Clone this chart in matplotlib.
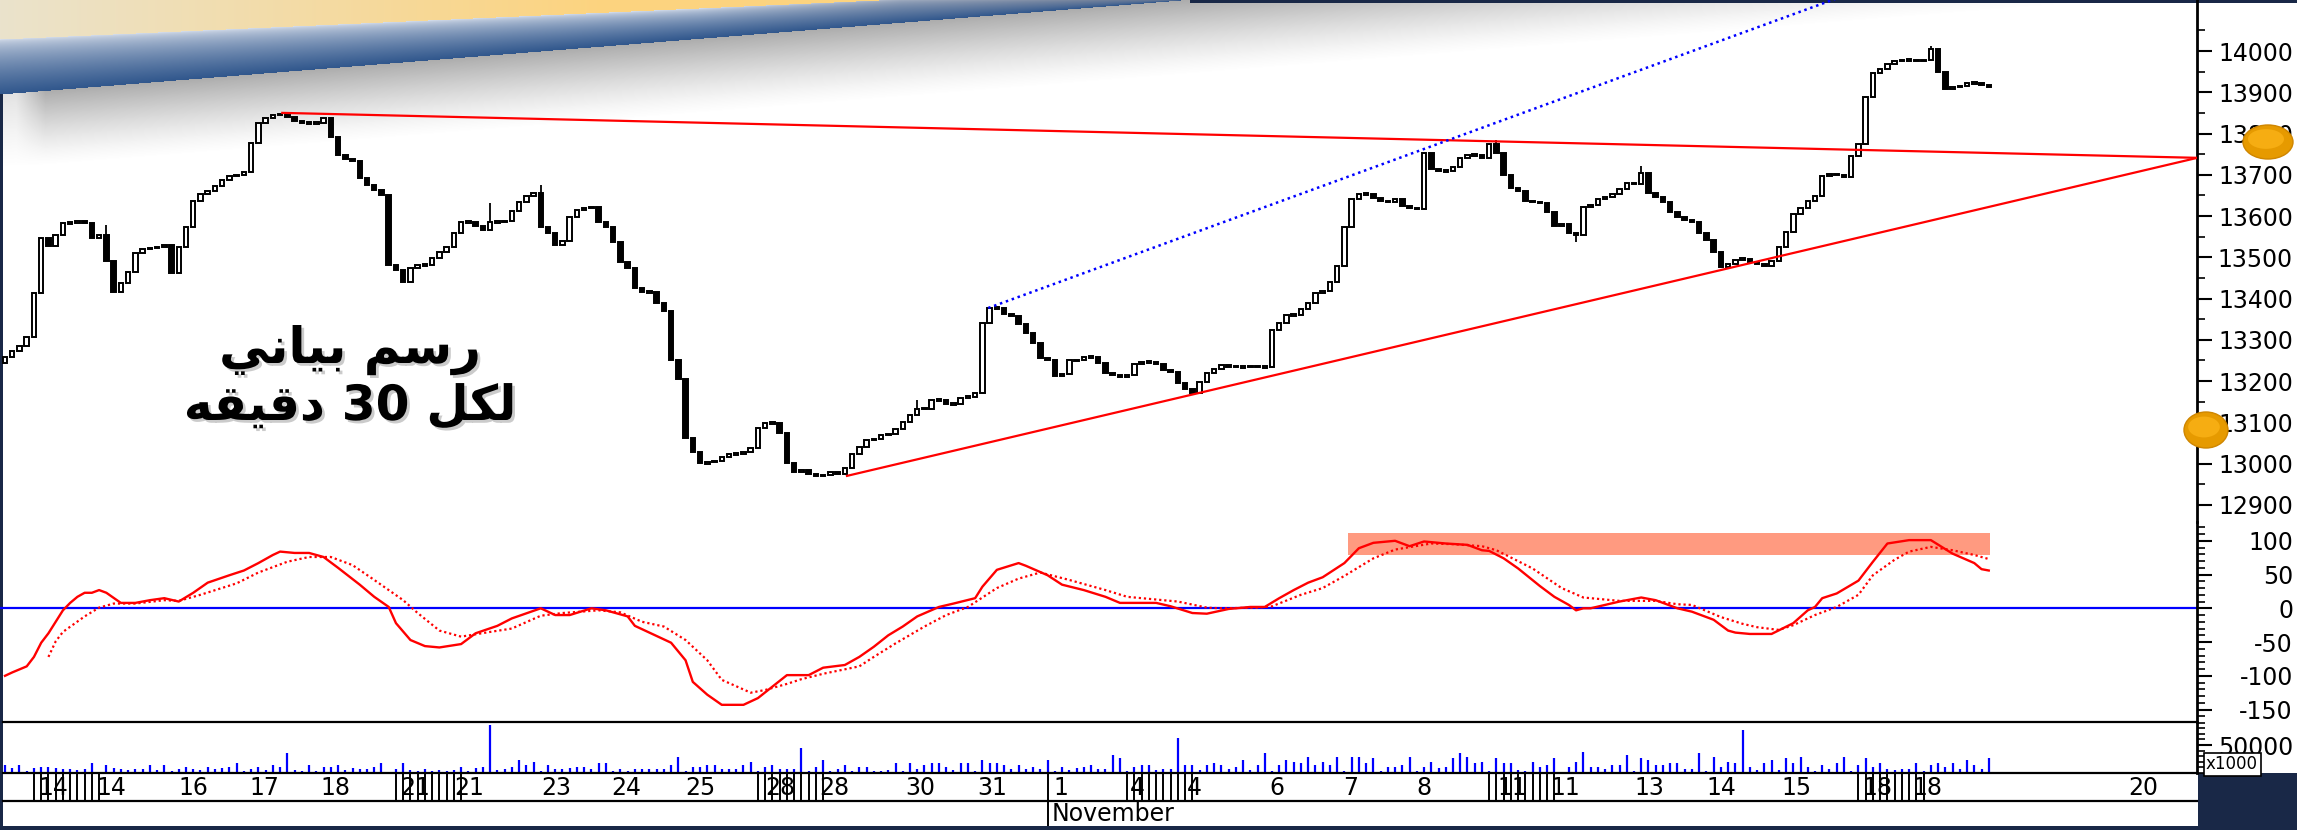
import numpy as np
import matplotlib
matplotlib.use("Agg")
import matplotlib.pyplot as plt
from matplotlib.patches import Ellipse
import matplotlib.patheffects as pe

# ---------------- data ----------------
first_open = 13244
close = [
    # Oct 14 - 18
    13258, 13273, 13285, 13307, 13413, 13547, 13527, 13554, 13583, 13583,
    13588, 13583, 13547, 13555, 13491, 13416, 13438, 13464, 13510, 13520,
    13522, 13525, 13530, 13462, 13525, 13573, 13636, 13653, 13660, 13672,
    13687, 13697, 13700, 13707, 13777, 13825, 13837, 13845, 13847, 13840,
    13830, 13825, 13825, 13826, 13837, 13792, 13748, 13737, 13733, 13692,
    13675, 13663, 13652, 13481,
    # Oct 21 - 25
    13470, 13440, 13474, 13481, 13481, 13498, 13512, 13525, 13560, 13585,
    13585, 13575, 13566, 13585, 13585, 13588, 13612, 13634, 13648, 13655,
    13573, 13558, 13530, 13540, 13598, 13615, 13619, 13622, 13586, 13573,
    13537, 13488, 13474, 13425, 13415, 13415, 13389, 13370, 13251, 13205,
    13062, 13028, 13001, 13003, 13006, 13015, 13023, 13023, 13028, 13037,
    13086, 13098, 13098, 13074, 13001, 12980,
    # Oct 28
    12985, 12975, 12970, 12972, 12980, 12975, 12990, 13023, 13040, 13057,
    13060, 13069, 13072, 13083, 13100,
    # Oct 30 - Nov 5
    13117, 13133, 13133, 13153, 13155, 13144, 13144, 13159, 13162, 13171,
    13341, 13377, 13377, 13362, 13358, 13338, 13316, 13292, 13256, 13252,
    13212, 13218, 13250, 13250, 13258, 13258, 13244, 13220, 13215, 13210,
    13215, 13241, 13246, 13246, 13241, 13227, 13222, 13195, 13180, 13171,
    13198,
    13220, 13230, 13238, 13236, 13234, 13234, 13236, 13234, 13234, 13324,
    13341, 13360, 13360, 13375, 13389, 13413, 13418, 13440, 13478,
    # Nov 7 - 12
    13573, 13641, 13653, 13653, 13643, 13636, 13634, 13641, 13624, 13620,
    13617, 13752, 13714, 13709, 13710, 13719, 13741, 13748, 13748, 13741,
    13775, 13753, 13700, 13668, 13661, 13636, 13634, 13632, 13610, 13576,
    13580, 13559, 13554, 13621, 13627, 13641,
    # Nov 12 - 19
    13646, 13653, 13665, 13680, 13678, 13704, 13656, 13646, 13634, 13610,
    13598, 13590, 13586, 13559, 13542, 13513, 13477, 13483, 13494, 13496,
    13488, 13483, 13478, 13491, 13525, 13561, 13605, 13619, 13636, 13648,
    13697, 13702, 13700, 13695, 13745, 13775, 13888, 13946, 13956, 13968,
    13976, 13978, 13978, 13976, 13978, 14005, 13949, 13908, 13913, 13915,
    13922, 13922, 13918, 13913,
]
wick_high = {14: 13578, 67: 13632, 74: 13675, 126: 13154, 206: 13784, 226: 13721, 266: 14012}
wick_low = {217: 13537}

volume_k = [
    14, 9, 14, 3, 9, 11, 11, 9, 7, 7, 5, 7, 17, 1, 14, 9, 7, 5, 7, 7,
    14, 5, 14, 3, 7, 11, 7, 5, 11, 7, 9, 11, 17, 3, 7, 11, 5, 14, 11, 35,
    5, 3, 14, 3, 11, 11, 14, 5, 9, 7, 7, 11, 17, 1, 7, 17, 5, 3, 7, 3, 5,
    3, 5, 11, 3, 9, 11, 85, 5, 7, 11, 23, 14, 20, 3, 14, 7, 7, 9, 11, 11,
    7, 17, 17, 3, 7, 3, 7, 7, 7, 7, 7, 14, 29, 3, 11, 11, 14, 14, 7, 7,
    7, 14, 20, 3, 11, 14, 7, 7, 7, 45,
    3, 11, 23, 3, 7, 14, 3, 11, 11, 3, 3, 5, 17, 3, 17, 7, 14, 17, 17, 11,
    5, 17, 17, 3, 23, 17, 17, 14, 7, 14, 7, 11, 7, 23, 3, 11, 5, 9, 11, 14, 7,
    7, 33, 26, 3, 11, 14, 14, 5, 7, 7, 63, 14, 14, 5, 14, 17, 14, 7, 11, 23,
    5, 14, 35, 3, 14, 23, 20, 17, 29, 14, 20, 14, 29, 3, 29, 29, 17, 26, 3, 11,
    11, 14, 29, 3, 11, 20, 9, 11, 26, 35, 29, 17, 20, 3, 26, 17, 17, 5, 3, 20,
    11, 14,
    26, 1, 11, 20, 38, 11, 11, 7, 14, 14, 32, 3, 26, 23, 14, 14, 17, 17, 7, 7,
    35, 3, 29, 11, 20, 17, 76, 11, 5, 17, 23, 5, 26, 17, 29, 11, 3, 14, 7, 17,
    29, 3, 14, 26, 11, 17, 7, 5, 7, 7, 17, 3, 14, 17, 11, 17, 7, 23, 14, 7, 26,
]

macd = [
    (0, -100), (1, -95), (3, -86), (4, -72), (5, -51), (6, -37), (7, -20), (8, -3),
    (9, 8), (10, 17), (11, 23), (12, 23), (13, 27), (14, 23), (16, 8), (18, 8),
    (20, 12), (22, 15), (24, 10), (26, 23), (28, 38), (31, 49), (33, 56), (35, 67),
    (37, 79), (38, 84), (40, 82), (42, 82), (44, 76), (46, 60), (49, 35), (51, 17),
    (53, 2), (54, -22), (56, -47), (58, -56), (60, -58), (63, -53), (65, -37),
    (68, -26), (70, -15), (74, 0), (76, -10), (78, -10), (81, 0), (83, -3),
    (86, -12), (87, -26), (90, -41), (92, -51), (94, -77), (95, -109), (97, -128),
    (99, -143), (102, -143), (104, -133), (106, -116), (108, -99), (111, -99),
    (113, -88), (116, -84), (118, -72), (120, -57), (122, -40), (124, -27),
    (126, -12), (129, 2), (131, 7), (134, 15), (135, 32), (137, 57), (140, 67),
    (141, 63), (144, 49), (146, 35), (149, 27), (152, 17), (154, 8), (159, 8),
    (161, 3), (164, -7), (166, -8), (169, -1), (172, 2), (174, 2), (176, 15),
    (178, 27), (180, 38), (182, 46), (185, 67), (187, 89), (189, 97), (192, 100),
    (193, 96), (194, 92), (196, 99), (199, 96), (202, 94), (204, 86), (205, 85),
    (207, 74), (209, 59), (212, 33), (214, 17), (216, 5), (217, -3), (218, 0),
    (219, 0), (223, 10), (226, 16), (228, 12), (231, 0), (233, -5), (236, -17),
    (238, -33), (239, -36), (241, -38), (244, -38), (247, -22), (249, -3),
    (250, 2), (251, 15), (253, 22), (256, 41), (258, 69), (260, 96), (263, 101),
    (266, 101), (269, 81), (272, 67), (273, 58), (274, 56),
]
signal = [
    (6, -72), (7, -49), (8, -35), (11, -12), (13, 1), (15, 7), (18, 7), (22, 12),
    (24, 11), (27, 20), (32, 37), (35, 53), (39, 69), (42, 76), (45, 76), (48, 64),
    (51, 42), (55, 12), (57, -7), (60, -33), (63, -42), (67, -35), (70, -30),
    (74, -11), (77, -7), (82, -3), (85, -6), (88, -20), (91, -27), (94, -47),
    (97, -77), (99, -106), (103, -125), (105, -121), (108, -112), (110, -105),
    (113, -97), (118, -86), (120, -72), (123, -52), (127, -27), (130, -10),
    (133, 2), (137, 30), (140, 44), (143, 53), (147, 42), (152, 27), (155, 17),
    (159, 13), (162, 10), (166, 1), (168, 0), (173, 1), (175, 3), (179, 20),
    (182, 30), (185, 48), (189, 74), (192, 87), (197, 96), (200, 95), (204, 92),
    (206, 86), (211, 59), (215, 30), (218, 16), (223, 11), (228, 11), (231, 6),
    (233, 5), (237, -13), (240, -23), (242, -28), (245, -32), (247, -25),
    (250, -10), (253, 2), (256, 20), (258, 49), (261, 72), (263, 84), (266, 91),
    (269, 86), (272, 79), (274, 73),
]
overbought_zone = (185.5, 274.2, 79, 112)   # x from, x to, osc from, osc to

trend_top = [(38.3, 13850), (302.8, 13741)]
trend_low = [(116.3, 12970), (302.8, 13741)]
channel = [(135.8, 13377), (251.2, 14116)]

price_ticks = list(range(12900, 14001, 100))
osc_ticks = [100, 50, 0, -50, -100, -150]
vol_tick = 50
vol_tick_label = "50000"

day_labels = ["14", "14", "16", "17", "18", "21", "21", "23", "24", "25", "28", "28",
              "30", "31", "1", "4", "4", "6", "7", "8", "11", "11", "13", "14", "15",
              "18", "18", "20"]
day_pos = [4.6, 12.6, 23.9, 33.8, 43.6, 54.6, 62.0, 74.0, 83.8, 94.0, 105.0, 112.4,
           124.4, 134.3, 144.8, 155.4, 163.3, 174.7, 184.8, 195.0, 206.1, 213.5,
           225.1, 235.0, 245.3, 256.5, 263.4, 293.2]
monday_starts = [4, 54, 104, 155, 205, 256]
month_label = "November"
month_pos = 144.1

title_line1 = "رسم بياني"
title_line2 = "لكل 30 دقيقه"
# the same two lines, pre-shaped (Arabic presentation forms, visual order)
title1_vis = "\uFEF2\uFEE7\uFE8E\uFEF4\uFE91 \uFEE2\uFEB3\uFEAD"
title2_vis = "\uFEEA\uFED8\uFEF4\uFED7\uFEA9 30 \uFEDE\uFEDC\uFEDF"

# ---------------- layout ----------------
W, H, DPI = 2297, 830, 100
X0_PX, BAR_PX, AXIS_PX = 5, 7.24, 2197
XLIM = (-X0_PX / BAR_PX, (AXIS_PX - X0_PX) / BAR_PX)
NAVY = np.array([0.10, 0.16, 0.28])
LABEL_RIGHT_PX = 2293

plt.rcParams['font.family'] = ['DejaVu Sans']
fig = plt.figure(figsize=(W / DPI, H / DPI), dpi=DPI, facecolor='white')

# background decoration (banner, shadow, frame)
yy, xx = np.mgrid[0:H, 0:W].astype(float)
rgba = np.zeros((H, W, 4))
y_blue = 95 - 0.0796 * xx
y_yel = 40 - 0.0444 * xx
d = yy - y_blue
sh = np.clip(1 - d / 75.0, 0, 1) ** 1.3 * (d >= 0) * 0.62 * np.clip(xx / 45.0, 0.35, 1)
rgba[..., :3] = 0.48
rgba[..., 3] = sh
band = (yy < y_blue) & (yy >= y_yel)
top_edge = np.maximum(y_yel, 0)
s = np.clip((yy - top_edge) / np.maximum(y_blue - top_edge, 1), 0, 1)
light = np.array([0.84, 0.87, 0.92])
dark = np.array([0.19, 0.34, 0.55])
col = light + (dark - light) * (s[..., None] ** 0.6)
fade = np.clip((xx - 700) / 500.0, 0, 1)[..., None] * 0.55 * (1 - s[..., None])
col = col * (1 - fade) + NAVY * fade
rgba[band, :3] = col[band]
rgba[band, 3] = 1
yel = yy < y_yel
t = np.clip(xx / 600.0, 0, 1)[..., None]
ycol = np.array([0.92, 0.89, 0.80]) * (1 - t) + np.array([0.99, 0.83, 0.50]) * t
rgba[yel, :3] = ycol[yel]
rgba[yel, 3] = 1
navy_mask = (((xx >= 1190) & (yy < 4)) | ((xx < 3) & (yy >= y_blue)) | (yy >= 826)
             | ((xx >= 2198) & (yy >= 773)))
rgba[navy_mask, :3] = NAVY
rgba[navy_mask, 3] = 1

bg = fig.add_axes([0, 0, 1, 1], zorder=0)
bg.imshow(rgba, extent=(0, W, H, 0), interpolation='nearest', aspect='auto')
bg.set_xlim(0, W); bg.set_ylim(H, 0); bg.axis('off')


def add_ax(top, bottom):
    ax = fig.add_axes([0, 1 - bottom / H, AXIS_PX / W, (bottom - top) / H], zorder=2)
    ax.set_facecolor('none')
    ax.set_xlim(*XLIM)
    for sname in ['top', 'left', 'bottom']:
        ax.spines[sname].set_visible(False)
    ax.spines['right'].set_linewidth(2)
    ax.tick_params(axis='x', which='both', bottom=False, labelbottom=False)
    ax.yaxis.tick_right()
    return ax


def style_yticks(ax, labelsize=17):
    tick_len = 10.8
    pad = (LABEL_RIGHT_PX - AXIS_PX) * 72 / DPI - tick_len
    ax.tick_params(axis='y', which='major', length=tick_len, width=1.5, pad=pad,
                   labelsize=labelsize, direction='out', colors='black')
    ax.tick_params(axis='y', which='minor', length=5.8, width=1.2, direction='out')
    for lbl in ax.get_yticklabels():
        lbl.set_horizontalalignment('right')


# ---- price panel ----
ax_p = add_ax(0, 522)
ax_p.set_ylim(14000 - (522 - 51) / 0.4125, 14000 + 51 / 0.4125)
close_a = np.array(close, dtype=float)
open_a = np.r_[first_open, close_a[:-1]]
idx = np.arange(len(close_a))
for i, hv in wick_high.items():
    ax_p.vlines(i, max(open_a[i], close_a[i]), hv, color='black', lw=1.3, zorder=2)
for i, lv in wick_low.items():
    ax_p.vlines(i, lv, min(open_a[i], close_a[i]), color='black', lw=1.3, zorder=2)
hgt = np.maximum(np.abs(close_a - open_a), 4.0)
bot = (close_a + open_a) / 2 - hgt / 2
up = close_a >= open_a
ax_p.bar(idx[up], hgt[up], bottom=bot[up], width=0.62, color='white',
         edgecolor='black', linewidth=1.4, zorder=3)
ax_p.bar(idx[~up], hgt[~up], bottom=bot[~up], width=0.62, color='black',
         edgecolor='black', linewidth=1.4, zorder=3)

(tx0, ty0), (tx1, ty1) = trend_top
ax_p.plot([tx0, tx1], [ty0, ty1], color='#ff0000', lw=1.6, zorder=4)
(lx0, ly0), (lx1, ly1) = trend_low
ax_p.plot([lx0, lx1], [ly0, ly1], color='#ff0000', lw=1.6, zorder=4)
(cx0, cy0), (cx1, cy1) = channel
slope = (cy1 - cy0) / (cx1 - cx0)
cx_end = cx1 + 10
ax_p.plot([cx0, cx_end], [cy0, cy0 + slope * (cx_end - cx0)], color='#0000ff',
          lw=1.8, linestyle=(0, (1, 1.5)), zorder=4)

ax_p.set_yticks(price_ticks)
ax_p.set_yticklabels([str(v) for v in price_ticks])
ax_p.set_yticks(np.arange(12950, 14101, 100), minor=True)
style_yticks(ax_p)

# Arabic caption
shadow = [pe.SimplePatchShadow(offset=(2, -2), shadow_rgbFace='0.55', alpha=0.45), pe.Normal()]
fig.text(350 / W, 1 - 350 / H, title1_vis, fontsize=36, fontweight='bold', ha='center',
         va='center', color='black', zorder=6, path_effects=shadow)
fig.text(350 / W, 1 - 406 / H, title2_vis, fontsize=35, fontweight='bold', ha='center',
         va='center', color='black', zorder=6, path_effects=shadow)

# ---- oscillator panel ----
ax_o = add_ax(522, 722)
ax_o.set_ylim(-(722 - 608.3) / 0.675, (608.3 - 522) / 0.675)
zx0, zx1, zy0, zy1 = overbought_zone
ax_o.fill_between([zx0, zx1], zy0, zy1, color='#ff9a80', lw=0, zorder=1)
ax_o.axhline(0, color='#0000ff', lw=1.6, zorder=2)
mx, my = zip(*macd)
sx, sy = zip(*signal)
ax_o.plot(sx, sy, color='#ff0000', lw=1.6, linestyle=(0, (1, 1.3)), zorder=3)
ax_o.plot(mx, my, color='#ff0000', lw=1.7, zorder=4)
ax_o.set_yticks(osc_ticks)
ax_o.set_yticklabels([str(v) for v in osc_ticks])
ax_o.set_yticks(np.arange(-160, 121, 10), minor=True)
style_yticks(ax_o)

# ---- volume panel ----
ax_v = add_ax(722, 773)
ax_v.set_ylim(0, (773 - 722) / 28 * 50)
vol = np.array(volume_k, dtype=float)
ax_v.vlines(np.arange(len(vol)), 0, vol, color='#0000ff', lw=1.6)
ax_v.set_yticks([vol_tick])
ax_v.set_yticklabels([vol_tick_label])
ax_v.set_yticks(np.arange(0, 91, 10), minor=True)
style_yticks(ax_v)

# ---- date rows ----
ax_d = fig.add_axes([0, 1 - 826 / H, AXIS_PX / W, (826 - 773) / H], zorder=2)
ax_d.set_facecolor('none')
ax_d.set_xlim(*XLIM)
ax_d.set_ylim(826, 773)
ax_d.axis('off')
for m in monday_starts:
    ax_d.vlines(np.arange(m, m + 10), 773, 801, color='black', lw=1.4)
ax_d.vlines(month_pos, 773, 826, color='black', lw=1.4)
for lab, pos in zip(day_labels, day_pos):
    ax_d.text(pos, 788, lab, fontsize=17, ha='left', va='center', color='black')
ax_d.text(month_pos + 0.5, 814, month_label, fontsize=17, ha='left', va='center', color='black')

# separator lines and overlays
ov = fig.add_axes([0, 0, 1, 1], zorder=5)
ov.set_xlim(0, W); ov.set_ylim(H, 0); ov.axis('off')
for yline in (722, 773, 801):
    ov.plot([3, AXIS_PX], [yline, yline], color='black', lw=1.6)

for (ex, ey, ew, eh) in [(2268, 142, 50, 34), (2206, 430, 44, 36)]:
    ov.add_patch(Ellipse((ex, ey), ew, eh, facecolor='#e69a00', edgecolor='#cf8600', lw=1))
    ov.add_patch(Ellipse((ex - 2, ey - 3), ew * 0.72, eh * 0.58, facecolor='#f6ad12', edgecolor='none'))
ov.text(2232, 764, "x1000", fontsize=12, ha='center', va='center', color='black',
        bbox=dict(boxstyle='square,pad=0.15', facecolor='white', edgecolor='black', lw=1.2))

fig.savefig('out.png', dpi=DPI, facecolor='white')
